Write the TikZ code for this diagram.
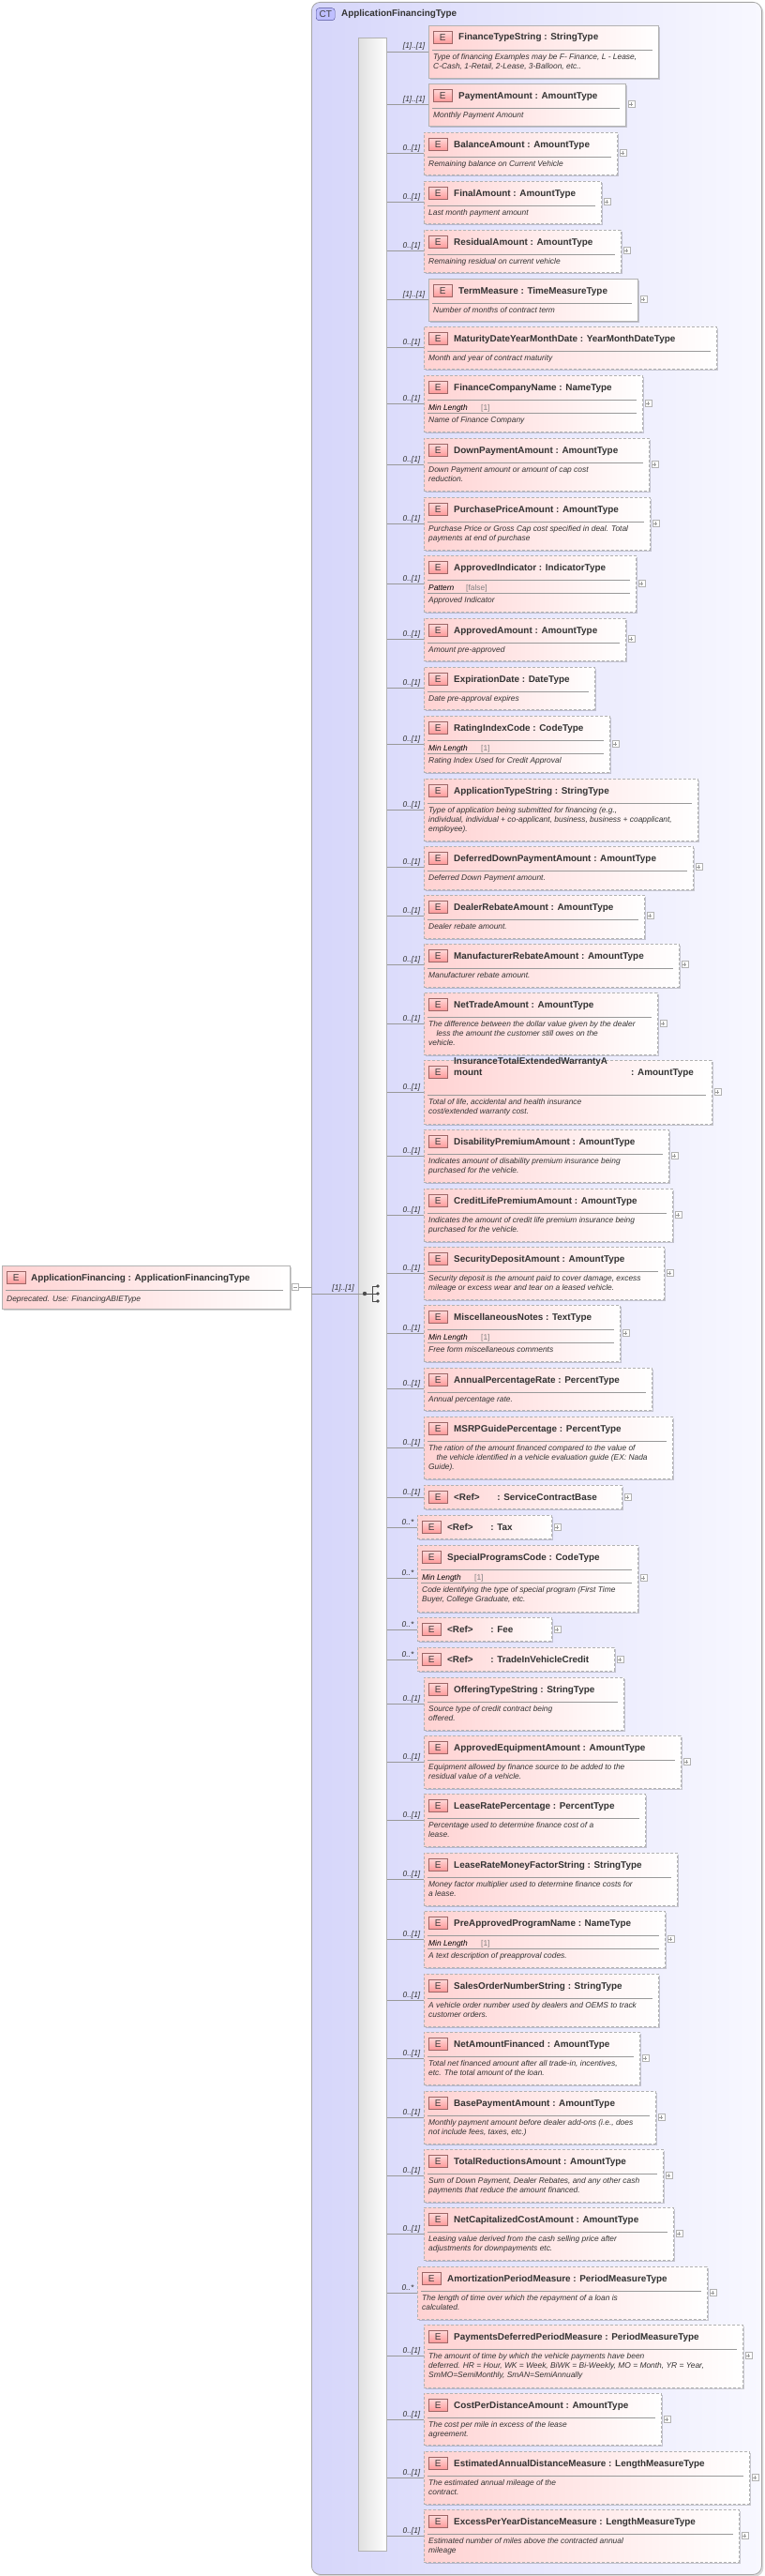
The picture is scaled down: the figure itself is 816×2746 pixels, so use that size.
\documentclass[tikz,border=0pt]{standalone}
\usepackage{fontspec}
\setmainfont{Liberation Sans}
\setsansfont{Liberation Sans}
\usetikzlibrary{shadows}
\definecolor{pinkL}{HTML}{FFD2D2}
\definecolor{ctL}{HTML}{D6D6FA}
\definecolor{ctR}{HTML}{F8F8FF}
\definecolor{txt}{HTML}{333333}
\tikzset{
 eboxs/.style={draw=black!30,line width=.8pt,left color=pinkL,right color=white,inner sep=0pt,
   drop shadow={shadow xshift=2pt,shadow yshift=-2pt,opacity=.18,fill=black}},
 eboxd/.style={eboxs,dash pattern=on 3pt off 2pt},
 ebadge/.style={draw=red!35!black!60,top color=red!15,bottom color=red!40,minimum width=20pt,minimum height=13pt,inner sep=0pt,font=\fontsize{10}{10}\selectfont,text=black!75},
 ttl/.style={font=\bfseries\fontsize{9.9}{12}\selectfont,text=txt,inner sep=0pt},
 dsc/.style={font=\itshape\fontsize{8.4}{10}\selectfont,text=txt,inner sep=0pt,align=left},
 fct/.style={font=\itshape\fontsize{8.4}{10}\selectfont,text=black,inner sep=0pt},
 fcv/.style={font=\fontsize{8.4}{10}\selectfont,text=black!50,inner sep=0pt},
 sep/.style={draw=black!40,line width=.6pt},
 conn/.style={draw=black!40,line width=.7pt},
 card/.style={font=\itshape\fontsize{8.4}{10}\selectfont,text=txt,inner sep=0pt},
 plusbox/.style={draw=black!30,fill=white,minimum size=7pt,inner sep=0pt,
   path picture={\draw[black!40] (path picture bounding box.west)++(1.5pt,0) -- ++(4pt,0);
     \draw[black!40] (path picture bounding box.north)++(0,-1.5pt) -- ++(0,-4pt);}},
 minusbox/.style={draw=black!30,fill=white,minimum size=7pt,inner sep=0pt,
   path picture={\draw[black!40] (path picture bounding box.west)++(1.5pt,0) -- ++(4pt,0);}},
}
% name, x, top, right, bottom, style, title, desc
\newcommand\EL[8]{%
 \node[#6,anchor=north west,minimum width={(#4-#2)*1pt},minimum height={(#5-#3)*1pt}] (#1) at (#2,#3) {};
 \node[ebadge,anchor=north west] (#1b) at ({#2+5},{#3+6}) {E};
 \node[ttl,anchor=base west] (#1t) at ({#2+32},{#3+16}) {#7};
 \draw[sep] ({#2+4},{#3+26}) -- ({#4-6},{#3+26});
 \node[dsc,anchor=north west] (#1d) at ({#2+5},{#3+30.5}) {#8};
}
% name, x, top, right, bottom, facet, value-offset, title, desc
\newcommand\ELM[9]{%
 \node[eboxd,anchor=north west,minimum width={(#4-#2)*1pt},minimum height={(#5-#3)*1pt}] (#1) at (#2,#3) {};
 \node[ebadge,anchor=north west] (#1b) at ({#2+5},{#3+6}) {E};
 \node[ttl,anchor=base west] (#1t) at ({#2+32},{#3+16}) {#8};
 \draw[sep] ({#2+4},{#3+26}) -- ({#4-6},{#3+26});
 \node[fct,anchor=base west] (#1f) at ({#2+5},{#3+37}) {#6};
 \node[fcv,anchor=base west] (#1v) at ({#2+#7},{#3+37}) {[1]};
 \draw[sep] ({#2+4},{#3+40}) -- ({#4-6},{#3+40});
 \node[dsc,anchor=north west] (#1d) at ({#2+5},{#3+44.5}) {#9};
}
\newcommand\ELR[5]{%
 \node[eboxd,anchor=north west,minimum width={(#3-#2)*1pt},minimum height=25pt] (#1) at (#2,#4) {};
 \node[ebadge,anchor=north west] (#1b) at ({#2+5},{#4+6}) {E};
 \node[ttl,anchor=base west] (#1t) at ({#2+32},{#4+16}) {<Ref>\hspace{1.6em} : #5};
}
% name, lineY, label
\newcommand\CN[3]{%
 \draw[conn] (bar.east |- 0,#2) -- (#1.west |- 0,#2);
 \node[card,anchor=base east,xshift=-3.5pt] (#1c) at (#1.west |- 0,{#2-3}) {#3};
}
\newcommand\PL[2]{\node[plusbox,xshift=5.5pt] (#1p) at (#1.east |- 0,#2) {};}
\begin{document}
\begin{tikzpicture}[x=1pt,y=-1pt]
\useasboundingbox (0,0) rectangle (816,2746);
% complex type container
\node[draw=black!35,line width=.8pt,rounded corners=9pt,left color=ctL,right color=ctR,anchor=north west,
  minimum width=480pt,minimum height=2742pt,inner sep=0pt,
  drop shadow={shadow xshift=2pt,shadow yshift=-2pt,opacity=.15,fill=black}] (ct) at (332,2) {};
\node[draw=blue!40!black!70,fill=blue!25!white,rounded corners=3pt,minimum width=20pt,minimum height=13pt,inner sep=0pt,
  anchor=north west,font=\fontsize{10}{10}\selectfont,text=black!75] (ctb) at (337,8.5) {CT};
\node[ttl,anchor=base west] (ctt) at (364,18) {ApplicationFinancingType};
% sequence bar
\node[draw=black!30,line width=.8pt,left color=black!12,right color=white,anchor=north west,
  minimum width=30pt,minimum height=2679pt,inner sep=0pt] (bar) at (382,40) {};
% root element
\node[eboxs,anchor=north west,minimum width=307pt,minimum height=46pt] (root) at (2,1349) {};
\node[ebadge,anchor=north west] (rootb) at (7,1355) {E};
\node[ttl,anchor=base west] (roott) at (33,1365) {ApplicationFinancing : ApplicationFinancingType};
\draw[sep] (6,1375) -- (302,1375);
\node[dsc,anchor=base west] (rootd) at (7,1387) {Deprecated. Use: FinancingABIEType};
\node[minusbox,xshift=5pt] (rootm) at (root.east |- 0,1372) {};
\draw[conn] (rootm.east) -- (ct.west |- 0,1372);
\coordinate (seqin) at (389,1379);
\draw[conn] (ct.west |- 0,1379) -- (seqin);
\node[card,anchor=base east] (rootc) at (378,1375) {[1]..[1]};
% sequence icon
\fill[black!70] (seqin) circle (2.2pt);
\draw[black!70,line width=.9pt] (seqin) -- (397,1379) (397,1371) -- (397,1387)
  (397,1371) -- (403,1371) (397,1379) -- (403,1379) (397,1387) -- (403,1387);
\fill[black!70] (403,1371) circle (1.8pt) (403,1379) circle (1.8pt) (403,1387) circle (1.8pt);

\EL{e1}{457}{27}{702}{83}{eboxs}{FinanceTypeString : StringType}{Type of financing Examples may be F- Finance, L - Lease,\\C-Cash, 1-Retail, 2-Lease, 3-Balloon, etc..}
\CN{e1}{55}{[1]..[1]}
\EL{e2}{457}{89}{667}{134}{eboxs}{PaymentAmount : AmountType}{Monthly Payment Amount}
\CN{e2}{111}{[1]..[1]}\PL{e2}{111}
\EL{e3}{452}{141}{658}{186}{eboxd}{BalanceAmount : AmountType}{Remaining balance on Current Vehicle}
\CN{e3}{163}{0..[1]}\PL{e3}{163}
\EL{e4}{452}{193}{641}{238}{eboxd}{FinalAmount : AmountType}{Last month payment amount}
\CN{e4}{215}{0..[1]}\PL{e4}{215}
\EL{e5}{452}{245}{662}{290}{eboxd}{ResidualAmount : AmountType}{Remaining residual on current vehicle}
\CN{e5}{267}{0..[1]}\PL{e5}{267}
\EL{e6}{457}{297}{680}{342}{eboxs}{TermMeasure : TimeMeasureType}{Number of months of contract term}
\CN{e6}{319}{[1]..[1]}\PL{e6}{319}
\EL{e7}{452}{348}{764}{393}{eboxd}{MaturityDateYearMonthDate : YearMonthDateType}{Month and year of contract maturity}
\CN{e7}{370}{0..[1]}
\ELM{e8}{452}{400}{685}{460}{Min Length}{61}{FinanceCompanyName : NameType}{Name of Finance Company}
\CN{e8}{430}{0..[1]}\PL{e8}{430}
\EL{e9}{452}{467}{692}{523}{eboxd}{DownPaymentAmount : AmountType}{Down Payment amount or amount of cap cost\\reduction.}
\CN{e9}{495}{0..[1]}\PL{e9}{495}
\EL{e10}{452}{530}{693}{586}{eboxd}{PurchasePriceAmount : AmountType}{Purchase Price or Gross Cap cost specified in deal. Total\\payments at end of purchase}
\CN{e10}{558}{0..[1]}\PL{e10}{558}
\node[eboxd,anchor=north west,minimum width=226pt,minimum height=60pt] (e11) at (452,592) {};
\node[ebadge,anchor=north west] (e11b) at (457,598) {E};
\node[ttl,anchor=base west] (e11t) at (484,608) {ApprovedIndicator : IndicatorType};
\draw[sep] (456,618) -- (672,618);
\node[fct,anchor=base west] (e11f) at (457,629) {Pattern};
\node[fcv,anchor=base west] (e11v) at (497,629) {[false]};
\draw[sep] (456,632) -- (672,632);
\node[dsc,anchor=north west] (e11d) at (457,636.5) {Approved Indicator};
\CN{e11}{622}{0..[1]}\PL{e11}{622}
\EL{e12}{452}{659}{667}{704}{eboxd}{ApprovedAmount : AmountType}{Amount pre-approved}
\CN{e12}{681}{0..[1]}\PL{e12}{681}
\EL{e13}{452}{711}{634}{756}{eboxd}{ExpirationDate : DateType}{Date pre-approval expires}
\CN{e13}{733}{0..[1]}
\ELM{e14}{452}{763}{650}{823}{Min Length}{61}{RatingIndexCode : CodeType}{Rating Index Used for Credit Approval}
\CN{e14}{793}{0..[1]}\PL{e14}{793}
\EL{e15}{452}{830}{744}{896}{eboxd}{ApplicationTypeString : StringType}{Type of application being submitted for financing (e.g.,\\individual, individual + co-applicant, business, business + coapplicant,\\employee).}
\CN{e15}{863}{0..[1]}
\EL{e16}{452}{902}{739}{948}{eboxd}{DeferredDownPaymentAmount : AmountType}{Deferred Down Payment amount.}
\CN{e16}{924}{0..[1]}\PL{e16}{924}
\EL{e17}{452}{954}{687}{1000}{eboxd}{DealerRebateAmount : AmountType}{Dealer rebate amount.}
\CN{e17}{976}{0..[1]}\PL{e17}{976}
\EL{e18}{452}{1006}{724}{1052}{eboxd}{ManufacturerRebateAmount : AmountType}{Manufacturer rebate amount.}
\CN{e18}{1028}{0..[1]}\PL{e18}{1028}
\EL{e19}{452}{1058}{701}{1124}{eboxd}{NetTradeAmount : AmountType}{The difference between the dollar value given by the dealer\\\hspace*{1em}less the amount the customer still owes on the\\vehicle.}
\CN{e19}{1091}{0..[1]}\PL{e19}{1091}
\node[eboxd,anchor=north west,minimum width=307pt,minimum height=68pt] (e20) at (452,1130) {};
\node[ebadge,anchor=north west] (e20b) at (457,1136) {E};
\node[ttl,anchor=base west,align=left] (e20t) at (484,1146) {InsuranceTotalExtendedWarrantyA\\mount};
\node[ttl,anchor=base west] (e20y) at (673,1146) {: AmountType};
\draw[sep] (456,1167) -- (753,1167);
\node[dsc,anchor=north west] (e20d) at (457,1171.5) {Total of life, accidental and health insurance\\cost/extended warranty cost.};
\CN{e20}{1164}{0..[1]}\PL{e20}{1164}
\EL{e21}{452}{1204}{713}{1260}{eboxd}{DisabilityPremiumAmount : AmountType}{Indicates amount of disability premium insurance being\\purchased for the vehicle.}
\CN{e21}{1232}{0..[1]}\PL{e21}{1232}
\EL{e22}{452}{1267}{717}{1323}{eboxd}{CreditLifePremiumAmount : AmountType}{Indicates the amount of credit life premium insurance being\\purchased for the vehicle.}
\CN{e22}{1295}{0..[1]}\PL{e22}{1295}
\EL{e23}{452}{1329}{708}{1385}{eboxd}{SecurityDepositAmount : AmountType}{Security deposit is the amount paid to cover damage, excess\\mileage or excess wear and tear on a leased vehicle.}
\CN{e23}{1357}{0..[1]}\PL{e23}{1357}
\ELM{e24}{452}{1391}{661}{1451}{Min Length}{61}{MiscellaneousNotes : TextType}{Free form miscellaneous comments}
\CN{e24}{1421}{0..[1]}\PL{e24}{1421}
\EL{e25}{452}{1458}{695}{1503}{eboxd}{AnnualPercentageRate : PercentType}{Annual percentage rate.}
\CN{e25}{1480}{0..[1]}
\EL{e26}{452}{1510}{717}{1576}{eboxd}{MSRPGuidePercentage : PercentType}{The ration of the amount financed compared to the value of\\\hspace*{1em}the vehicle identified in a vehicle evaluation guide (EX: Nada\\Guide).}
\CN{e26}{1543}{0..[1]}
\ELR{e27}{452}{663}{1583}{ServiceContractBase}
\CN{e27}{1596}{0..[1]}\PL{e27}{1596}
\ELR{e28}{445}{588}{1615}{Tax}
\CN{e28}{1628}{0..*}\PL{e28}{1628}
\node[eboxd,anchor=north west,minimum width=235pt,minimum height=71pt] (e29) at (445,1647) {};
\node[ebadge,anchor=north west] (e29b) at (450,1653) {E};
\node[ttl,anchor=base west] (e29t) at (477,1663) {SpecialProgramsCode : CodeType};
\draw[sep] (449,1673) -- (674,1673);
\node[fct,anchor=base west] (e29f) at (450,1684) {Min Length};
\node[fcv,anchor=base west] (e29v) at (506,1684) {[1]};
\draw[sep] (449,1687) -- (674,1687);
\node[dsc,anchor=north west] (e29d) at (450,1691.5) {Code identifying the type of special program (First Time\\Buyer, College Graduate, etc.};
\CN{e29}{1682}{0..*}\PL{e29}{1682}
\ELR{e30}{445}{588}{1724}{Fee}
\CN{e30}{1737}{0..*}\PL{e30}{1737}
\ELR{e31}{445}{655}{1756}{TradeInVehicleCredit}
\CN{e31}{1769}{0..*}\PL{e31}{1769}
\EL{e32}{452}{1788}{665}{1844}{eboxd}{OfferingTypeString : StringType}{Source type of credit contract being\\offered.}
\CN{e32}{1816}{0..[1]}
\EL{e33}{452}{1850}{726}{1906}{eboxd}{ApprovedEquipmentAmount : AmountType}{Equipment allowed by finance source to be added to the\\residual value of a vehicle.}
\CN{e33}{1878}{0..[1]}\PL{e33}{1878}
\EL{e34}{452}{1912}{688}{1968}{eboxd}{LeaseRatePercentage : PercentType}{Percentage used to determine finance cost of a\\lease.}
\CN{e34}{1940}{0..[1]}
\EL{e35}{452}{1975}{722}{2031}{eboxd}{LeaseRateMoneyFactorString : StringType}{Money factor multiplier used to determine finance costs for\\a lease.}
\CN{e35}{2003}{0..[1]}
\ELM{e36}{452}{2037}{709}{2097}{Min Length}{61}{PreApprovedProgramName : NameType}{A text description of preapproval codes.}
\CN{e36}{2067}{0..[1]}\PL{e36}{2067}
\EL{e37}{452}{2104}{702}{2160}{eboxd}{SalesOrderNumberString : StringType}{A vehicle order number used by dealers and OEMS to track\\customer orders.}
\CN{e37}{2132}{0..[1]}
\EL{e38}{452}{2166}{682}{2222}{eboxd}{NetAmountFinanced : AmountType}{Total net financed amount after all trade-in, incentives,\\etc. The total amount of the loan.}
\CN{e38}{2194}{0..[1]}\PL{e38}{2194}
\EL{e39}{452}{2229}{699}{2285}{eboxd}{BasePaymentAmount : AmountType}{Monthly payment amount before dealer add-ons (i.e., does\\not include fees, taxes, etc.)}
\CN{e39}{2257}{0..[1]}\PL{e39}{2257}
\EL{e40}{452}{2291}{707}{2347}{eboxd}{TotalReductionsAmount : AmountType}{Sum of Down Payment, Dealer Rebates, and any other cash\\payments that reduce the amount financed.}
\CN{e40}{2319}{0..[1]}\PL{e40}{2319}
\EL{e41}{452}{2353}{718}{2409}{eboxd}{NetCapitalizedCostAmount : AmountType}{Leasing value derived from the cash selling price after\\adjustments for downpayments etc.}
\CN{e41}{2381}{0..[1]}\PL{e41}{2381}
\EL{e42}{445}{2416}{754}{2472}{eboxd}{AmortizationPeriodMeasure : PeriodMeasureType}{The length of time over which the repayment of a loan is\\calculated.}
\CN{e42}{2444}{0..*}\PL{e42}{2444}
\EL{e43}{452}{2478}{792}{2545}{eboxd}{PaymentsDeferredPeriodMeasure : PeriodMeasureType}{The amount of time by which the vehicle payments have been\\deferred. HR = Hour, WK = Week, BiWK = Bi-Weekly, MO = Month, YR = Year,\\SmMO=SemiMonthly, SmAN=SemiAnnually}
\CN{e43}{2511}{0..[1]}\PL{e43}{2511}
\EL{e44}{452}{2551}{705}{2606}{eboxd}{CostPerDistanceAmount : AmountType}{The cost per mile in excess of the lease\\agreement.}
\CN{e44}{2579}{0..[1]}\PL{e44}{2579}
\EL{e45}{452}{2613}{799}{2669}{eboxd}{EstimatedAnnualDistanceMeasure : LengthMeasureType}{The estimated annual mileage of the\\contract.}
\CN{e45}{2641}{0..[1]}\PL{e45}{2641}
\EL{e46}{452}{2675}{788}{2731}{eboxd}{ExcessPerYearDistanceMeasure : LengthMeasureType}{Estimated number of miles above the contracted annual\\mileage}
\CN{e46}{2703}{0..[1]}\PL{e46}{2703}
\end{tikzpicture}
\end{document}
